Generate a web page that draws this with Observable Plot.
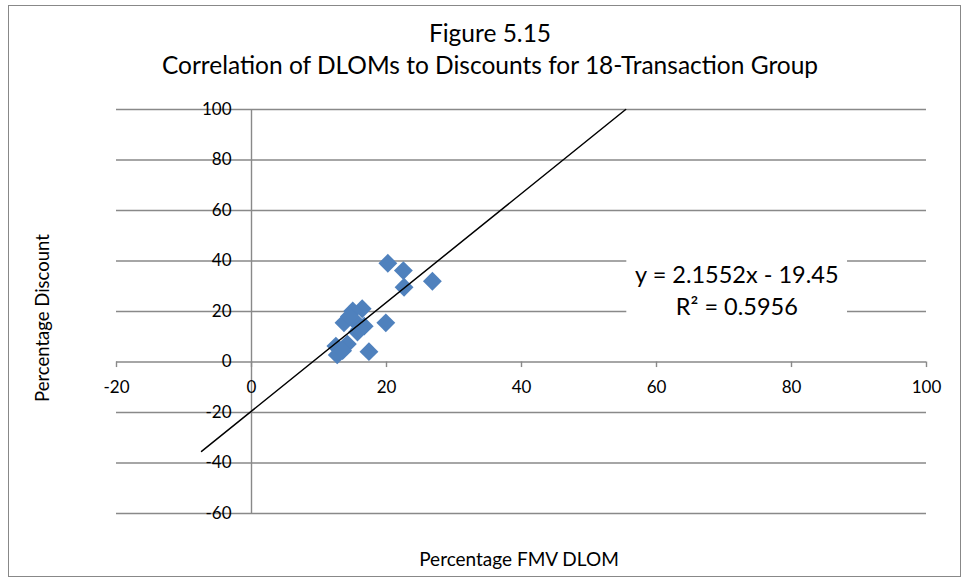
<!DOCTYPE html>
<html>
<head>
<meta charset="utf-8">
<script src="https://cdn.jsdelivr.net/npm/d3@7"></script>
<script src="https://cdn.jsdelivr.net/npm/@observablehq/plot@0.6"></script>
<style>
  html, body { margin: 0; padding: 0; background: #fff; }
  #wrap { position: relative; width: 969px; height: 580px; font-family: Lato, "Open Sans", sans-serif; color: #000; }
  #border { position: absolute; left: 8px; top: 5px; width: 953px; height: 572px; border: 1.5px solid #888; box-sizing: border-box; }
  #chart { position: absolute; left: 0; top: 0; }
  .t { position: absolute; white-space: nowrap; }
  #t1 { left: 0; width: 980px; text-align: center; top: 18px; font-size: 24.5px; }
  #t2 { left: 0; width: 980px; text-align: center; top: 50px; font-size: 24.5px; }
  #xl { left: 369px; width: 300px; text-align: center; top: 547px; font-size: 19px; }
  #yl { left: 42px; top: 318px; font-size: 18.5px; transform: translate(-50%, -50%) rotate(-90deg); }
</style>
</head>
<body>
<div id="wrap">
  <div id="border"></div>
  <div id="chart"></div>
  <div class="t" id="t1">Figure 5.15</div>
  <div class="t" id="t2">Correlation of DLOMs to Discounts for 18-Transaction Group</div>
  <div class="t" id="xl">Percentage FMV DLOM</div>
  <div class="t" id="yl">Percentage Discount</div>
</div>
<script>
// Data
const dlom = [20.2, 22.5, 26.8, 22.6, 16.4, 15.0, 13.7, 15.2, 16.7, 15.7, 19.9, 12.5, 14.2, 12.7, 17.4, 13.5, 14.5, 16.0];
const discount = [39.1, 36.2, 32.0, 29.6, 21.1, 20.2, 15.5, 16.5, 14.2, 11.9, 15.5, 6.3, 7.1, 2.8, 4.1, 4.5, 18.0, 13.0];
const xTicks = [-20, 0, 20, 40, 60, 80, 100];
const yTicks = [-60, -40, -20, 0, 20, 40, 60, 80, 100];
const trendX = [-7.4, 55.43];
const trendY = [-35.4, 100];
const eqText = "y = 2.1552x - 19.45\nR² = 0.5956";

const points = dlom.map((x, i) => ({x, y: discount[i]}));
const trend = trendX.map((x, i) => ({x, y: trendY[i]}));

const gridColor = "#898989";
const fontFam = "Lato, 'Open Sans', sans-serif";

const chart = Plot.plot({
  width: 969,
  height: 580,
  marginLeft: 116,
  marginRight: 43,
  marginTop: 109,
  marginBottom: 67,
  x: {domain: [-20, 100], axis: null},
  y: {domain: [-60, 100], axis: null},
  style: {fontFamily: fontFam, background: "transparent", overflow: "visible"},
  marks: [
    Plot.ruleY(yTicks, {y: d => d, x1: -20, x2: 100, stroke: gridColor, strokeWidth: 1.4}),
    Plot.ruleX([0], {y1: -60, y2: 100, stroke: gridColor, strokeWidth: 1.4}),
    Plot.ruleX(xTicks, {x: d => d, y1: 0, y2: -2.2, stroke: gridColor, strokeWidth: 1.4}),
    Plot.rect([0], {x1: 55.6, x2: 88.3, y1: 17.3, y2: 43.3, fill: "white"}),
    Plot.text([eqText], {x: 71.9, y: 29, text: d => d, fontSize: 23.5, lineHeight: 1.38, fill: "black", textAnchor: "middle"}),
    Plot.text(yTicks, {x: 0, y: d => d, text: d => String(d), textAnchor: "end", dx: -20, fontSize: 17, fill: "black"}),
    Plot.text(xTicks, {x: d => d, y: 0, text: d => String(d), dy: 26, fontSize: 17, fill: "black"}),
    Plot.dot(points, {x: "x", y: "y", symbol: "diamond2", r: 8.5, fill: "#4f81bd", stroke: "none"}),
    Plot.line(trend, {x: "x", y: "y", stroke: "black", strokeWidth: 1.5})
  ]
});
document.getElementById("chart").appendChild(chart);
</script>
</body>
</html>
